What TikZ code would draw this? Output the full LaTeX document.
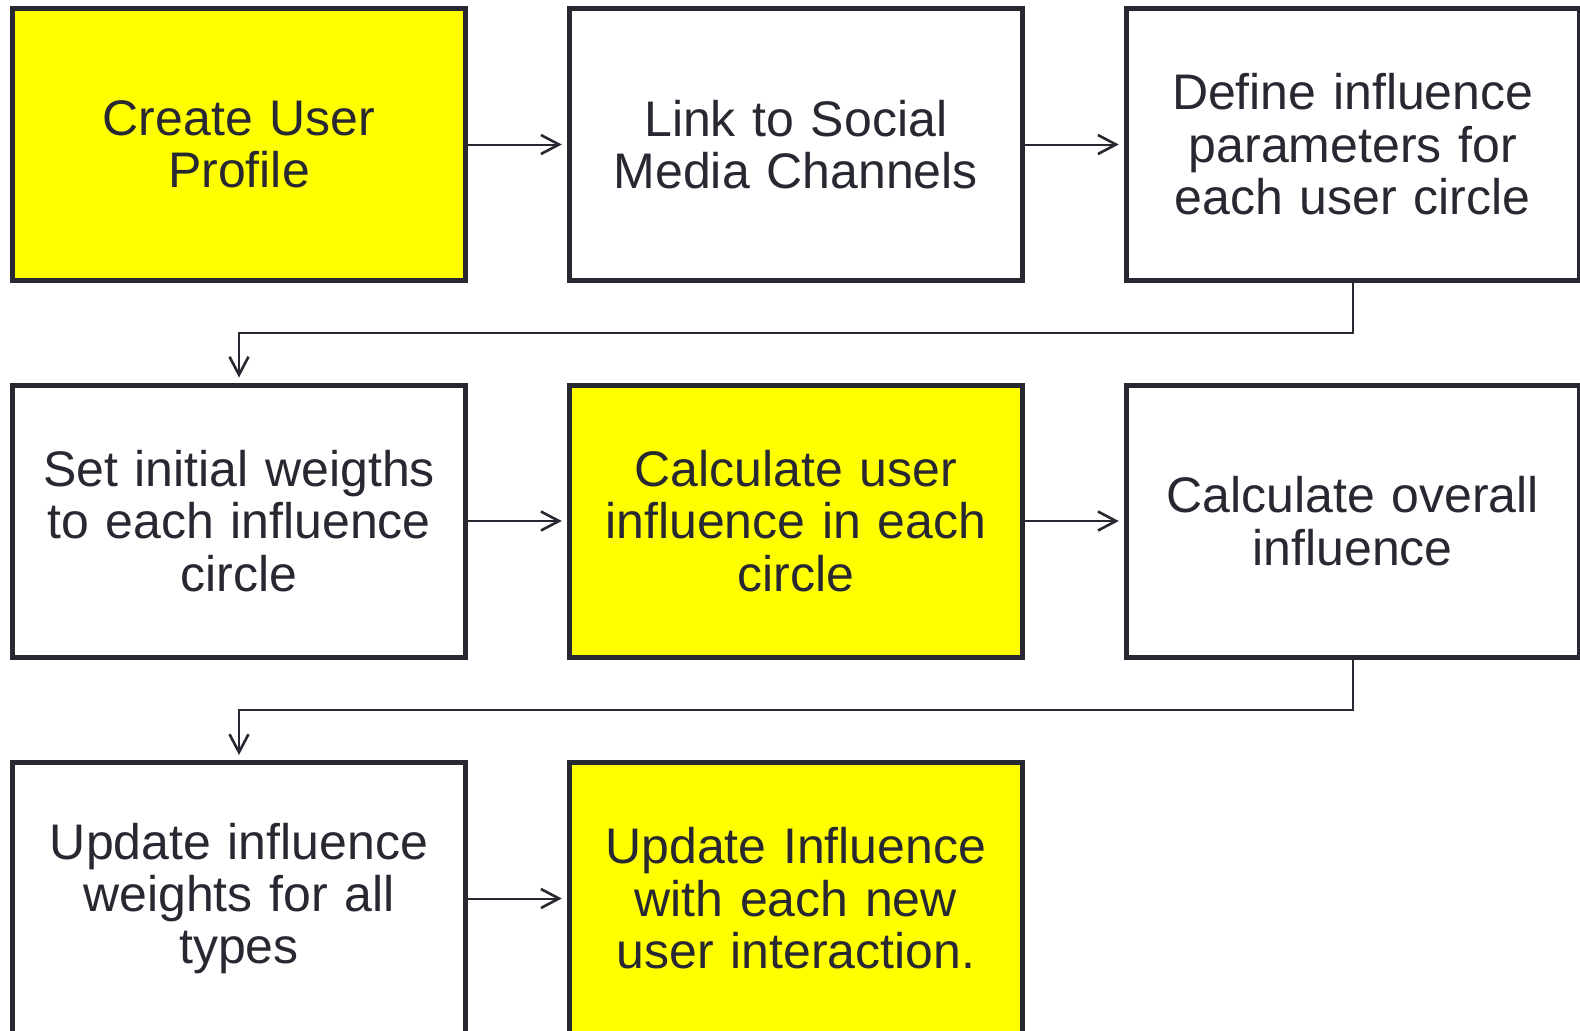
\documentclass[tikz,border=0pt]{standalone}
\usepackage{fontspec}
\setmainfont{Liberation Sans}
\usetikzlibrary{arrows.meta}
\definecolor{ink}{HTML}{282832}
\definecolor{hilite}{HTML}{FFFF00}
\begin{document}
\begin{tikzpicture}[x=0.5pt,y=-0.5pt,
  stepbox/.style={draw=ink, line width=2.5pt, minimum width=226.5pt,
    minimum height=136pt, inner sep=0pt, text width=215pt, align=center,
    font=\fontsize{25}{26.2}\selectfont, text=ink},
  hot/.style={stepbox, fill=hilite},
  link/.style={draw=ink, line width=1pt,
    -{Straight Barb[length=9pt,width=9.5pt,line width=1.3pt]}, shorten >=2.5pt}
]
\useasboundingbox (0,0) rectangle (1580,1030);
\clip (0,0) rectangle (1580,1030);
\fill[white] (0,0) rectangle (1580,1030);

% first row
\node[hot]      (profile) at (239,144.5)     {Create User\\Profile};
\node[stepbox]  (social)  at (795.75,144.5)  {Link to Social\\Media Channels};
\node[stepbox]  (define)  at (1352.75,144.5) {Define influence\\parameters for\\each user circle};

% second row
\node[stepbox]  (weights) at (239,521)       {Set initial weigths\\to each influence\\circle};
\node[hot]      (circle)  at (795.75,521)    {Calculate user\\influence in each\\circle};
\node[stepbox]  (overall) at (1352.75,521)   {Calculate overall\\influence};

% third row
\node[stepbox]  (update)  at (239,898.5)     {Update influence\\weights for all\\types};
\node[hot]      (interact) at (795.75,898.5) {Update Influence\\with each new\\user interaction.};

% connectors
\draw[link] (profile.east) -- (social.west);
\draw[link] (social.east) -- (define.west);
\draw[link] (define.south) -- ++(0,50) -| (weights.north);
\draw[link] (weights.east) -- (circle.west);
\draw[link] (circle.east) -- (overall.west);
\draw[link] (overall.south) -- ++(0,50) -| (update.north);
\draw[link] (update.east) -- (interact.west);
\end{tikzpicture}
\end{document}
